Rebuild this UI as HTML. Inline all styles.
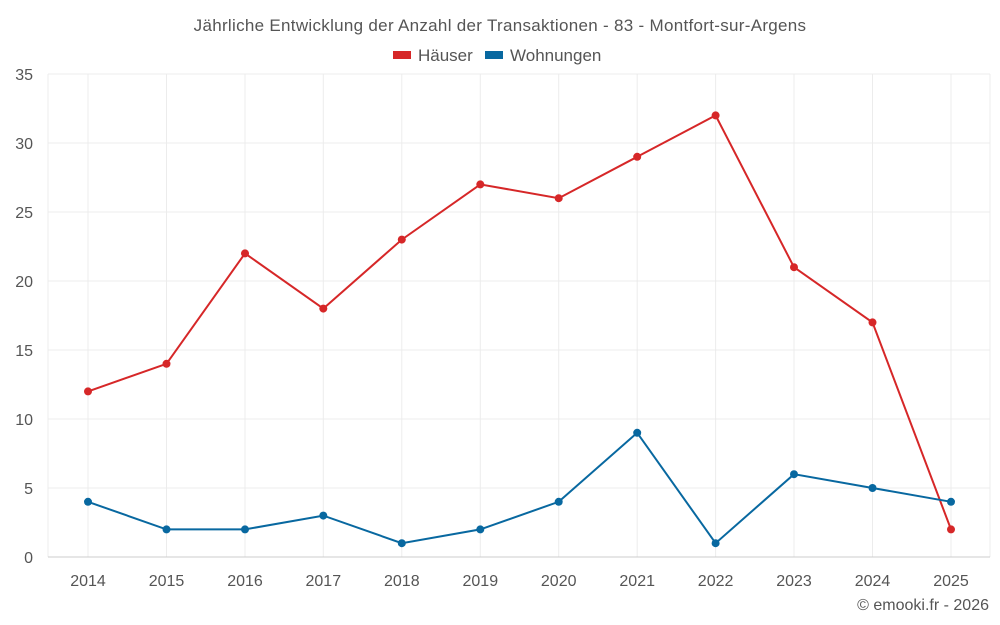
<!DOCTYPE html>
<html><head><style>body{margin:0;background:#fff}svg{display:block;font-family:"Liberation Sans",sans-serif}</style></head><body>
<svg width="1000" height="625" viewBox="0 0 1000 625">
<text x="500" y="31" text-anchor="middle" font-size="17" letter-spacing="0.3" fill="#555">Jährliche Entwicklung der Anzahl der Transaktionen - 83 - Montfort-sur-Argens</text>
<rect x="393" y="51" width="18" height="8" fill="#d62728"/>
<text x="418" y="61" font-size="17" fill="#555">Häuser</text>
<rect x="485" y="51" width="18" height="8" fill="#0868a0"/>
<text x="510" y="61" font-size="17" fill="#555">Wohnungen</text>
<g stroke="#ececec" stroke-width="1">
<line x1="48" y1="74" x2="990" y2="74"/><line x1="48" y1="143" x2="990" y2="143"/><line x1="48" y1="212" x2="990" y2="212"/><line x1="48" y1="281" x2="990" y2="281"/><line x1="48" y1="350" x2="990" y2="350"/><line x1="48" y1="419" x2="990" y2="419"/><line x1="48" y1="488" x2="990" y2="488"/>
<line x1="48" y1="74" x2="48" y2="557"/><line x1="88" y1="74" x2="88" y2="557"/><line x1="166.5" y1="74" x2="166.5" y2="557"/><line x1="245" y1="74" x2="245" y2="557"/><line x1="323.3" y1="74" x2="323.3" y2="557"/><line x1="401.8" y1="74" x2="401.8" y2="557"/><line x1="480.3" y1="74" x2="480.3" y2="557"/><line x1="558.7" y1="74" x2="558.7" y2="557"/><line x1="637.2" y1="74" x2="637.2" y2="557"/><line x1="715.6" y1="74" x2="715.6" y2="557"/><line x1="794" y1="74" x2="794" y2="557"/><line x1="872.5" y1="74" x2="872.5" y2="557"/><line x1="951" y1="74" x2="951" y2="557"/><line x1="990" y1="74" x2="990" y2="557"/>
</g>
<line x1="48" y1="557" x2="990" y2="557" stroke="#ccc"/>
<g font-size="16" fill="#555" text-anchor="end">
<text x="33" y="80">35</text><text x="33" y="149">30</text><text x="33" y="218">25</text><text x="33" y="287">20</text><text x="33" y="356">15</text><text x="33" y="425">10</text><text x="33" y="494">5</text><text x="33" y="563">0</text>
</g>
<g font-size="16" fill="#555" text-anchor="middle">
<text x="88" y="586">2014</text><text x="166.5" y="586">2015</text><text x="245" y="586">2016</text><text x="323.3" y="586">2017</text><text x="401.8" y="586">2018</text><text x="480.3" y="586">2019</text><text x="558.7" y="586">2020</text><text x="637.2" y="586">2021</text><text x="715.6" y="586">2022</text><text x="794" y="586">2023</text><text x="872.5" y="586">2024</text><text x="951" y="586">2025</text>
</g>
<text x="989" y="610" text-anchor="end" font-size="16" fill="#555">© emooki.fr - 2026</text>
<polyline fill="none" stroke="#d62728" stroke-width="2" points="88,391.4 166.5,363.8 245,253.4 323.3,308.6 401.8,239.6 480.3,184.4 558.7,198.2 637.2,156.8 715.6,115.4 794,267.2 872.5,322.4 951,529.4"/>
<g fill="#d62728"><circle cx="88" cy="391.4" r="4"/><circle cx="166.5" cy="363.8" r="4"/><circle cx="245" cy="253.4" r="4"/><circle cx="323.3" cy="308.6" r="4"/><circle cx="401.8" cy="239.6" r="4"/><circle cx="480.3" cy="184.4" r="4"/><circle cx="558.7" cy="198.2" r="4"/><circle cx="637.2" cy="156.8" r="4"/><circle cx="715.6" cy="115.4" r="4"/><circle cx="794" cy="267.2" r="4"/><circle cx="872.5" cy="322.4" r="4"/><circle cx="951" cy="529.4" r="4"/></g>
<polyline fill="none" stroke="#0868a0" stroke-width="2" points="88,501.8 166.5,529.4 245,529.4 323.3,515.6 401.8,543.2 480.3,529.4 558.7,501.8 637.2,432.8 715.6,543.2 794,474.2 872.5,488 951,501.8"/>
<g fill="#0868a0"><circle cx="88" cy="501.8" r="4"/><circle cx="166.5" cy="529.4" r="4"/><circle cx="245" cy="529.4" r="4"/><circle cx="323.3" cy="515.6" r="4"/><circle cx="401.8" cy="543.2" r="4"/><circle cx="480.3" cy="529.4" r="4"/><circle cx="558.7" cy="501.8" r="4"/><circle cx="637.2" cy="432.8" r="4"/><circle cx="715.6" cy="543.2" r="4"/><circle cx="794" cy="474.2" r="4"/><circle cx="872.5" cy="488" r="4"/><circle cx="951" cy="501.8" r="4"/></g>
</svg>
</body></html>
